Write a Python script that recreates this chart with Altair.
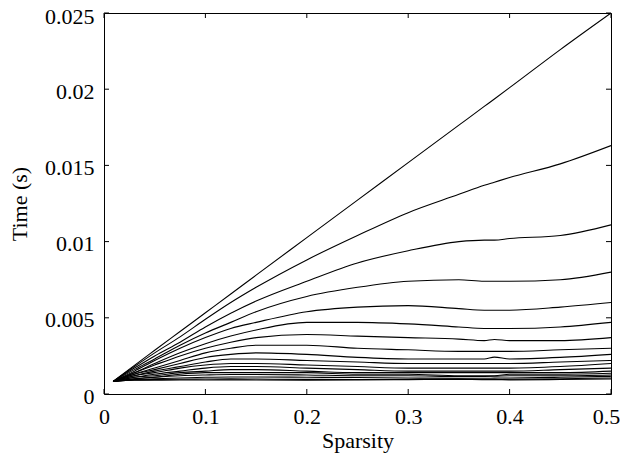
import altair as alt
import pandas as pd

# x positions (sparsity) at which the curves were read
SPARSITY = [0.009, 0.03, 0.05, 0.075, 0.1, 0.125, 0.15, 0.2, 0.25, 0.3, 0.35, 0.375, 0.385, 0.4, 0.45, 0.5]

# time (s) for each curve, top to bottom
S1 = [0.00082, 0.00188, 0.00287, 0.0041, 0.00533, 0.00656, 0.0078, 0.01026, 0.01272, 0.01518, 0.01764, 0.01887, 0.01936, 0.0201, 0.0226, 0.0250]
S2 = [0.00082, 0.0018, 0.0027, 0.00375, 0.0049, 0.0060, 0.0070, 0.0088, 0.0104, 0.0119, 0.0131, 0.0137, 0.0139, 0.0142, 0.0151, 0.0163]
S3 = [0.00082, 0.0017, 0.0025, 0.0034, 0.0044, 0.0053, 0.0061, 0.0074, 0.0086, 0.0094, 0.0100, 0.0101, 0.0101, 0.0102, 0.0104, 0.0111]
S4 = [0.00082, 0.0016, 0.0023, 0.0032, 0.0040, 0.0047, 0.0054, 0.0064, 0.0070, 0.0074, 0.0075, 0.0074, 0.0074, 0.0074, 0.0075, 0.0080]
S5 = [0.00082, 0.0015, 0.0022, 0.0030, 0.0037, 0.0043, 0.0047, 0.0054, 0.0057, 0.0058, 0.0056, 0.0055, 0.0055, 0.0055, 0.0057, 0.0060]
S6 = [0.00082, 0.0014, 0.0020, 0.0027, 0.0033, 0.0038, 0.0042, 0.0047, 0.0047, 0.0046, 0.0044, 0.0043, 0.0043, 0.0043, 0.0044, 0.0047]
S7 = [0.00082, 0.0014, 0.0019, 0.0025, 0.0030, 0.0034, 0.0037, 0.0039, 0.0038, 0.0037, 0.0036, 0.0035, 0.00358, 0.0035, 0.0035, 0.0037]
S8 = [0.00082, 0.0013, 0.0017, 0.0022, 0.0027, 0.0030, 0.0032, 0.0032, 0.0030, 0.0029, 0.0028, 0.0028, 0.0028, 0.0028, 0.0029, 0.0030]
S9 = [0.00082, 0.0013, 0.0016, 0.0020, 0.0024, 0.0026, 0.0027, 0.0026, 0.0024, 0.0023, 0.0023, 0.0023, 0.00242, 0.0023, 0.0024, 0.0026]
S10 = [0.00082, 0.0012, 0.0015, 0.0018, 0.0021, 0.0023, 0.0023, 0.0022, 0.0021, 0.0020, 0.0020, 0.0020, 0.0020, 0.0020, 0.0021, 0.0022]
S11 = [0.00082, 0.0012, 0.0014, 0.0017, 0.0019, 0.0020, 0.0020, 0.0019, 0.0018, 0.0017, 0.0017, 0.0017, 0.0017, 0.0017, 0.0018, 0.0020]
S12 = [0.00082, 0.0011, 0.0013, 0.0015, 0.0017, 0.0018, 0.0018, 0.0017, 0.0016, 0.0015, 0.0015, 0.0015, 0.0015, 0.0015, 0.0016, 0.0017]
S13 = [0.00082, 0.0011, 0.0012, 0.0014, 0.0015, 0.0016, 0.0016, 0.0015, 0.0014, 0.0014, 0.0014, 0.0014, 0.0014, 0.0014, 0.0014, 0.0015]
S14 = [0.00082, 0.0010, 0.0011, 0.0013, 0.0014, 0.0014, 0.0014, 0.0014, 0.0013, 0.0013, 0.0012, 0.0012, 0.0012, 0.0013, 0.0013, 0.00136]
S15 = [0.00082, 0.0010, 0.0011, 0.0012, 0.00125, 0.00128, 0.00128, 0.00125, 0.0012, 0.0012, 0.00115, 0.00115, 0.00116, 0.0012, 0.0012, 0.00125]
S16 = [0.00082, 0.00095, 0.0010, 0.00105, 0.0011, 0.00112, 0.00112, 0.0011, 0.00108, 0.00105, 0.00103, 0.00103, 0.00104, 0.00105, 0.0011, 0.00116]
S17 = [0.00082, 0.00092, 0.00095, 0.00097, 0.00098, 0.00099, 0.00098, 0.00096, 0.00095, 0.00096, 0.00098, 0.00095, 0.00095, 0.00097, 0.0010, 0.00105]
S18 = [0.00082, 0.0009, 0.00091, 0.00092, 0.00092, 0.00093, 0.00092, 0.00091, 0.00092, 0.00094, 0.00096, 0.00094, 0.00094, 0.00093, 0.00095, 0.00098]

SERIES = [S1, S2, S3, S4, S5, S6, S7, S8, S9, S10, S11, S12, S13, S14, S15, S16, S17, S18]

X_TICKS = [0, 0.1, 0.2, 0.3, 0.4, 0.5]
Y_TICKS = [0, 0.005, 0.01, 0.015, 0.02, 0.025]

rows = []
for i, s in enumerate(SERIES):
    for x, y in zip(SPARSITY, s):
        rows.append({"series": i, "sparsity": x, "time": y})
df = pd.DataFrame(rows)
xt = pd.DataFrame({"v": X_TICKS})
yt = pd.DataFrame({"v": Y_TICKS})

W, H = 507, 381
TL = 5
FONT = "Liberation Serif"

xscale = alt.Scale(domain=[0, 0.5], nice=False, zero=False)
yscale = alt.Scale(domain=[0, 0.025], nice=False)
xaxis = alt.Axis(title="Sparsity", values=X_TICKS, format="~g", ticks=False,
                 domain=False, grid=False, labelPadding=12, titlePadding=3,
                 labelFlush=False,
                 labelOffset=alt.condition("datum.value == 0.5", alt.value(-5), alt.value(0)))
yaxis = alt.Axis(title="Time (s)", values=Y_TICKS, format="~g", ticks=False,
                 domain=False, grid=False, labelPadding=10, titlePadding=13,
                 labelOffset=alt.condition("datum.value == 0.025", alt.value(3.5), alt.value(2)))

lines = alt.Chart(df).mark_line(color="black", strokeWidth=1.1, interpolate="monotone", clip=True).encode(
    x=alt.X("sparsity:Q", scale=xscale, axis=xaxis),
    y=alt.Y("time:Q", scale=yscale, axis=yaxis),
    detail="series:N",
)

bottom_ticks = alt.Chart(xt).mark_rule(color="black", strokeWidth=1).encode(
    x=alt.X("v:Q", scale=xscale, axis=xaxis), y=alt.value(H), y2=alt.value(H - TL))
top_ticks = alt.Chart(xt).mark_rule(color="black", strokeWidth=1).encode(
    x=alt.X("v:Q", scale=xscale, axis=xaxis), y=alt.value(0), y2=alt.value(TL))
left_ticks = alt.Chart(yt).mark_rule(color="black", strokeWidth=1).encode(
    y=alt.Y("v:Q", scale=yscale, axis=yaxis), x=alt.value(0), x2=alt.value(TL))
right_ticks = alt.Chart(yt).mark_rule(color="black", strokeWidth=1).encode(
    y=alt.Y("v:Q", scale=yscale, axis=yaxis), x=alt.value(W), x2=alt.value(W - TL))

chart = alt.layer(lines, bottom_ticks, top_ticks, left_ticks, right_ticks).properties(
    width=W, height=H,
    autosize=alt.AutoSizeParams(type="none"),
    padding={"left": 96, "top": 5, "right": 9, "bottom": 59},
    background="white",
).configure_view(stroke="black", strokeWidth=1).configure_axis(
    labelFont=FONT, titleFont=FONT, labelFontSize=22, titleFontSize=22,
    titleFontWeight="normal", labelColor="black", titleColor="black",
)

chart.save("out.html", embed_options={"renderer": "svg", "actions": False})
